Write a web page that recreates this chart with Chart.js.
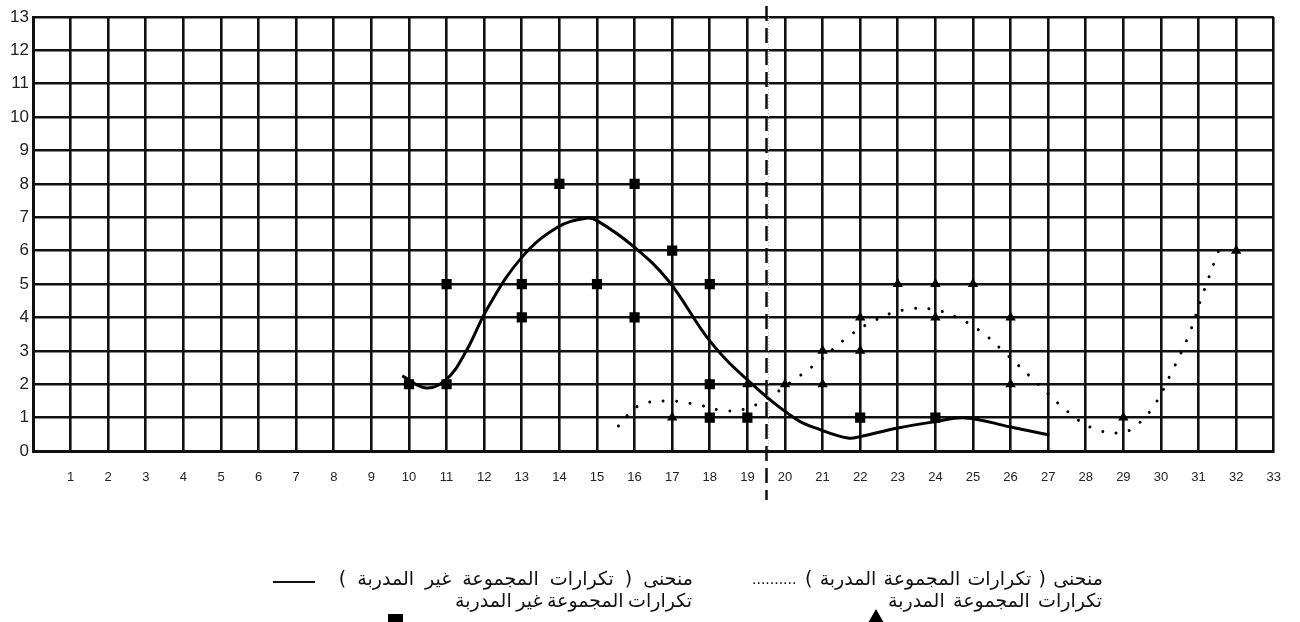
<!DOCTYPE html>
<html><head><meta charset="utf-8">
<script src="https://cdn.jsdelivr.net/npm/chart.js@4.4.1/dist/chart.umd.min.js"></script>
<style>
html,body{margin:0;padding:0;background:#fff;}
#wrap{position:relative;width:1300px;height:622px;overflow:hidden;background:#fff;}
#c{position:absolute;left:0;top:0;}
.lg{position:absolute;direction:rtl;text-align:right;font-family:"DejaVu Sans","Noto Sans",sans-serif;font-size:19px;color:#111;white-space:nowrap;line-height:22px;}
.ul{position:absolute;left:273px;top:581px;width:42px;height:2px;background:#111;}
.dots{position:absolute;left:752px;top:569px;font-family:"Liberation Sans",Arial,sans-serif;font-size:16px;line-height:20px;color:#111;white-space:nowrap;}
.sq{position:absolute;left:388px;top:614px;width:15px;height:15px;background:#000;}
.tri{position:absolute;left:868px;top:609px;width:0;height:0;border-left:8px solid transparent;border-right:8px solid transparent;border-bottom:14px solid #000;}
</style></head>
<body>
<div id="wrap">
<canvas id="c" width="1300" height="622" style="width:1300px;height:622px"></canvas>
<div class="lg" data-w="370" style="right:607px;top:567px">منحنى ( تكرارات المجموعة غير المدربة )</div>
<div class="lg" data-w="227" style="right:608px;top:589px">تكرارات المجموعة غير المدربة</div>
<div class="lg" data-w="298" style="right:197px;top:567px">منحنى ( تكرارات المجموعة المدربة )</div>
<div class="lg" data-w="214" style="right:198px;top:589px">تكرارات المجموعة المدربة</div>
<div class="ul"></div>
<div class="dots">..........</div>
<div class="sq"></div>
<div class="tri"></div>
</div>
<script>
// ---- data ----
const xTickLabels = ['1','2','3','4','5','6','7','8','9','10','11','12','13','14','15','16','17','18','19','20','21','22','23','24','25','26','27','28','29','30','31','32','33'];
const yTickLabels = ['0','1','2','3','4','5','6','7','8','9','10','11','12','13'];

// untrained group frequencies (squares)
const untrainedX = [10, 11, 11, 13, 13, 14, 15, 16, 16, 17, 18, 18, 18, 19, 22, 24];
const untrainedY = [2, 2, 5, 5, 4, 8, 5, 8, 4, 6, 5, 2, 1, 1, 1, 1];

// trained group frequencies (triangles)
const trainedX = [17, 18, 19, 20, 21, 21, 22, 22, 23, 24, 24, 25, 26, 26, 29, 32];
const trainedY = [1, 2, 2, 2, 3, 2, 4, 3, 5, 5, 4, 5, 4, 2, 1, 6];

// untrained curve (solid)
const untrainedCurveX = [9.82, 10.45, 10.98, 11.5, 12.1, 13.0, 13.95, 14.7, 15.0, 16.0, 16.9, 18.0, 19.0, 20.3, 20.96, 21.67, 22.0, 23.0, 23.95, 24.8, 26.0, 27.03];
const untrainedCurveY = [2.25, 1.89, 2.13, 2.95, 4.3, 5.8, 6.7, 6.97, 6.9, 6.1, 5.1, 3.3, 2.13, 0.95, 0.63, 0.39, 0.43, 0.69, 0.87, 0.99, 0.72, 0.48];

// trained curve (dotted)
const trainedCurveX = [15.57, 16.1, 16.9, 17.7, 18.5, 19.26, 20.2, 20.85, 21.7, 22.4, 23.13, 23.9, 24.67, 25.3, 25.86, 26.7, 27.53, 28.17, 28.9, 29.28, 29.8, 30.3, 30.75, 31.1, 31.6];
const trainedCurveY = [0.75, 1.35, 1.5, 1.38, 1.2, 1.4, 2.1, 2.64, 3.44, 3.92, 4.22, 4.25, 3.95, 3.5, 2.93, 2.04, 1.17, 0.69, 0.54, 0.71, 1.33, 2.4, 3.5, 4.66, 6.2];

// separator between the two periods
const separatorX = 19.5;

// fit legend lines towards the widths measured in the reference (gentle word spacing)
document.querySelectorAll('.lg').forEach(el => {
  const target = parseFloat(el.dataset.w);
  const w = el.getBoundingClientRect().width;
  const spaces = (el.textContent.match(/ /g) || []).length;
  if (spaces) {
    const ws = Math.max(-1.5, Math.min(5, (target - w) / spaces));
    el.style.wordSpacing = ws.toFixed(2) + 'px';
  }
});

const pts = (xs, ys) => xs.map((x, i) => ({x, y: ys[i]}));

const separatorPlugin = {
  id: 'separator',
  beforeDatasetsDraw(chart) {
    const {ctx, scales: {x, y}} = chart;
    const px = Math.round(x.getPixelForValue(separatorX)) + 0.5;
    ctx.save();
    ctx.strokeStyle = '#bdbdbd';
    ctx.lineWidth = 1;
    ctx.setLineDash([1, 2]);
    ctx.beginPath();
    ctx.moveTo(px + 2, y.getPixelForValue(13));
    ctx.lineTo(px + 2, y.getPixelForValue(0));
    ctx.stroke();
    ctx.strokeStyle = '#111';
    ctx.lineWidth = 2.5;
    ctx.setLineDash([15, 7]);
    ctx.beginPath();
    ctx.moveTo(px, 6);
    ctx.lineTo(px, 500);
    ctx.stroke();
    ctx.restore();
  }
};

const tickFont = {family: '"Liberation Sans", Arial, sans-serif'};

new Chart(document.getElementById('c'), {
  type: 'scatter',
  data: {
    datasets: [
      {
        label: 'untrained curve',
        data: pts(untrainedCurveX, untrainedCurveY),
        showLine: true,
        tension: 0.4,
        borderColor: '#000',
        borderWidth: 3,
        pointRadius: 0,
        fill: false
      },
      {
        label: 'trained curve',
        data: pts(trainedCurveX, trainedCurveY),
        showLine: true,
        tension: 0.4,
        borderColor: '#000',
        borderWidth: 3,
        borderCapStyle: 'round',
        borderDash: [0.01, 13.5],
        pointRadius: 0,
        fill: false
      },
      {
        label: 'untrained',
        data: pts(untrainedX, untrainedY),
        pointStyle: 'rect',
        pointRadius: 7.2,
        backgroundColor: '#000',
        borderColor: '#000',
        borderWidth: 0
      },
      {
        label: 'trained',
        data: pts(trainedX, trainedY),
        pointStyle: 'triangle',
        pointRadius: 6,
        backgroundColor: '#000',
        borderColor: '#000',
        borderWidth: 0
      }
    ]
  },
  options: {
    responsive: false,
    animation: false,
    layout: {padding: {top: 17, right: 23, left: 0, bottom: 0}},
    plugins: {legend: {display: false}, tooltip: {enabled: false}},
    scales: {
      x: {
        type: 'linear', min: 0, max: 33,
        afterFit(s) { s.height = 171; },
        grid: {color: '#111', lineWidth: 2.6, drawTicks: false},
        border: {color: '#111', width: 3},
        ticks: {
          stepSize: 1, autoSkip: false, maxRotation: 0, padding: 19,
          color: '#222', font: {...tickFont, size: 13},
          callback: (v) => (v >= 1 ? xTickLabels[v - 1] : '')
        }
      },
      y: {
        type: 'linear', min: 0, max: 13,
        afterFit(s) { s.width = 33; },
        grid: {color: '#111', lineWidth: 2.6, drawTicks: false},
        border: {color: '#111', width: 3},
        ticks: {
          stepSize: 1, autoSkip: false, padding: 4,
          color: '#222', font: {...tickFont, size: 17},
          callback: (v) => yTickLabels[v]
        }
      }
    }
  },
  plugins: [separatorPlugin]
});
</script>
</body></html>
